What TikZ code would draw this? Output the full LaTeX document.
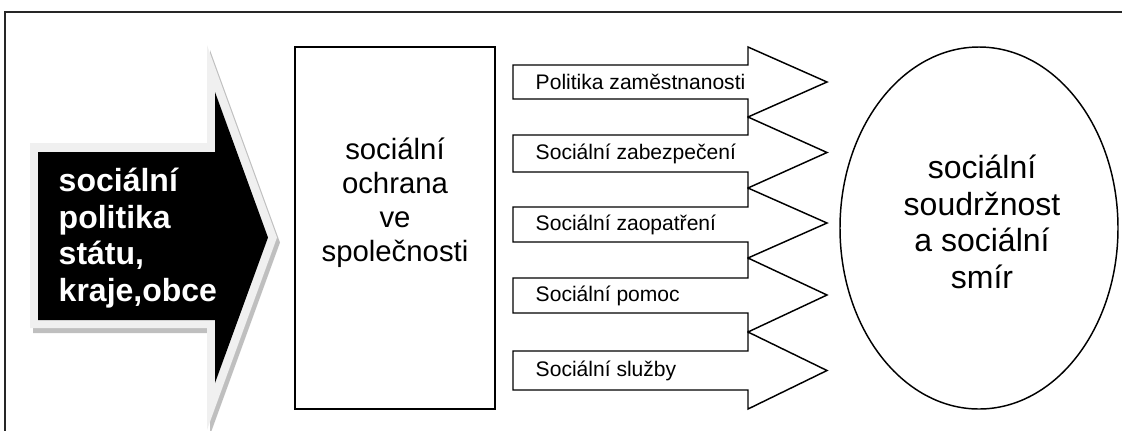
\documentclass[tikz,border=0pt]{standalone}
\usepackage{fontspec}
\setmainfont{Liberation Sans}
\tikzset{
  bigtext/.style={font=\bfseries\fontsize{24}{27.5}\selectfont, text=white, align=left, inner sep=0pt},
  midtext/.style={font=\fontsize{22}{25.5}\selectfont, align=center, inner sep=0pt},
  armtext/.style={font=\fontsize{15.8}{18}\selectfont, anchor=west, inner sep=0pt},
  ovaltext/.style={font=\fontsize{24}{27.5}\selectfont, align=center, inner sep=0pt}
}
\begin{document}
\begin{tikzpicture}[x=0.75pt,y=-0.75pt,line width=1.1pt]
\useasboundingbox (0,0) rectangle (1122,430);

% frame
\draw[line width=1.4pt,black!85] (5,445) -- (5,12) -- (1135,12);

% big arrow with halo and shadow
\fill[black!25] (33,148) -- (210,148) -- (210,50) -- (280,242.5) -- (210,435) -- (210,333) -- (33,333) -- cycle;
\fill[black!6] (30,143) -- (207,143) -- (207,45) -- (277,237.5) -- (207,430) -- (207,328) -- (30,328) -- cycle;
\fill[black] (38,152) -- (215,152) -- (215,92) -- (268,237.5) -- (215,383) -- (215,320) -- (38,320) -- cycle;
\node[bigtext,anchor=west] (policy) at (58,238) {sociální\\politika\\státu,\\kraje,obce};

% middle box
\draw (295,47) rectangle (495,409);
\node[midtext] (protection) at (395,203) {sociální\\ochrana\\ve\\společnosti};

% five arrows
\draw[fill=white] (513,65) -- (748,65) -- (748,47) -- (827,82) -- (748,117) -- (748,99) -- (513,99) -- cycle;
\draw[fill=white] (513,135) -- (748,135) -- (748,117) -- (827,152.5) -- (748,188) -- (748,172) -- (513,172) -- cycle;
\draw[fill=white] (513,207) -- (748,207) -- (748,188) -- (827,223) -- (748,258) -- (748,242) -- (513,242) -- cycle;
\draw[fill=white] (513,278) -- (748,278) -- (748,258) -- (827,295) -- (748,332) -- (748,313) -- (513,313) -- cycle;
\draw[fill=white] (513,351) -- (748,351) -- (748,332) -- (827,370.5) -- (748,409) -- (748,390) -- (513,390) -- cycle;

\node[armtext] (employ) at (535,82) {Politika zaměstnanosti};
\node[armtext] (security) at (535,153.5) {Sociální zabezpečení};
\node[armtext] (provision) at (535,224.5) {Sociální zaopatření};
\node[armtext] (assist) at (535,295.5) {Sociální pomoc};
\node[armtext] (services) at (535,370.5) {Sociální služby};

% oval
\draw (979,228) ellipse (139 and 181);
\node[ovaltext] (cohesion) at (982,222) {sociální\\soudržnost\\a sociální\\smír};
\end{tikzpicture}
\end{document}
